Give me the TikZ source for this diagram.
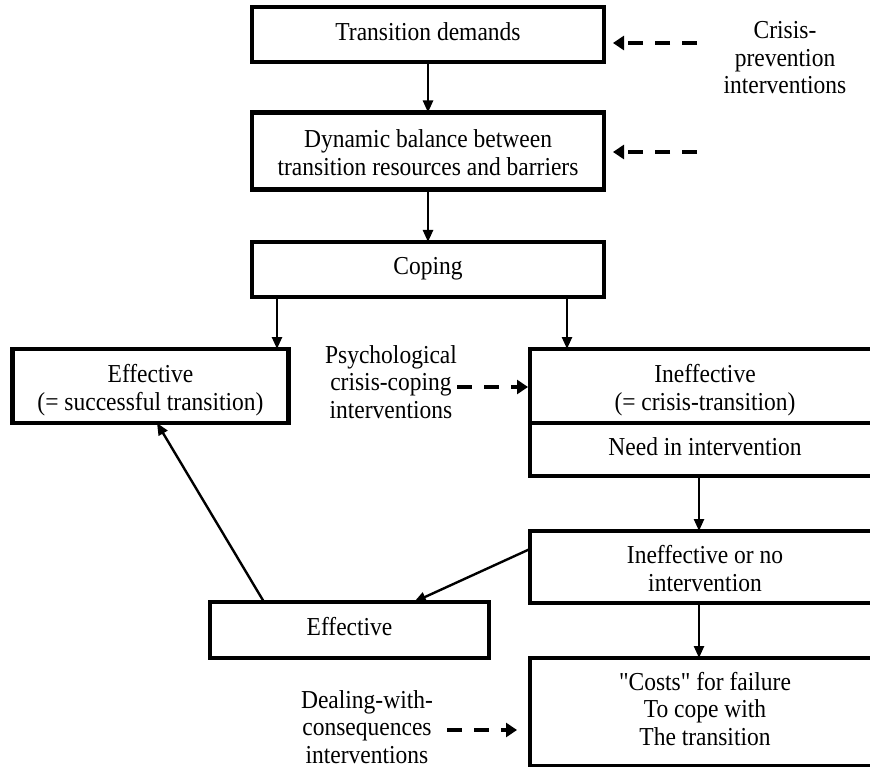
\documentclass[tikz,border=0pt]{standalone}
\usepackage{fontspec}
\usepackage{graphicx}
\setmainfont{Liberation Serif}[Ligatures=TeXOff]
\usetikzlibrary{arrows.meta}

% centred lines of text, set a little taller than wide;
% the optional argument lowers the lines inside their node
\newcommand{\tallrows}[2][0pt]{\raisebox{-#1}[\height][\depth]{%
  \scalebox{1}[1.1]{\begin{tabular}{@{}c@{}}#2\end{tabular}}}}

\begin{document}
\begin{tikzpicture}[x=1pt, y=-1pt,
  every node/.style={font=\fontsize{23.5}{25}\selectfont},
  box/.style={draw, line width=4.7pt, inner sep=0pt, outer sep=0pt, align=center},
  lbl/.style={align=center, inner sep=0pt},
  arr/.style={line width=2.4pt, -{Triangle[length=12pt,width=10pt]}},
  darr/.style={line width=4.6pt, dash pattern=on 15pt off 12pt,
               -{Triangle[length=11pt,width=14pt]}}]

\clip (0,0) rectangle (870,767);
\fill[white] (0,0) rectangle (870,767);

% main column
\node[box, minimum width=352pt, minimum height=55pt] (td) at (428,34.5) {\tallrows[1pt]{Transition demands}};
\node[box, minimum width=352pt, minimum height=77pt] (db) at (428,151)
  {\tallrows[5pt]{Dynamic balance between\\transition resources and barriers}};
\node[box, minimum width=352pt, minimum height=55pt] (cp) at (428,269.5) {\tallrows{Coping}};

% outcomes of coping
\node[box, minimum width=276pt, minimum height=74pt] (eff) at (150.5,386)
  {\tallrows[5pt]{Effective\\(= successful transition)}};
\node[box, minimum width=350pt, minimum height=74pt] (ineff) at (705,386)
  {\tallrows[5pt]{Ineffective\\(= crisis-transition)}};
\node[box, minimum width=350pt, minimum height=53pt] (need) at (705,449.5) {\tallrows{Need in intervention}};
\node[box, minimum width=350pt, minimum height=72pt] (ino) at (705,567)
  {\tallrows[5pt]{Ineffective or no\\intervention}};
\node[box, minimum width=279pt, minimum height=56pt] (eff2) at (349.5,630) {\tallrows{Effective}};
\node[box, minimum width=350pt, minimum height=108pt] (costs) at (705,712)
  {\tallrows{"Costs" for failure\\To cope with\\The transition}};

% intervention labels
\node[lbl] (crisis) at (785,61) {\tallrows{Crisis-\\prevention\\interventions}};
\node[lbl] (psych) at (391,385) {\tallrows{Psychological\\crisis-coping\\interventions}};
\node[lbl] (deal) at (367,730) {\tallrows{Dealing-with-\\consequences\\interventions}};

% starting points of the dashed intervention arrows
\coordinate (c1) at (697,43);
\coordinate (c2) at (697,152);
\coordinate (c3) at (457,387);
\coordinate (c4) at (447,730);

% solid flow arrows
\draw[arr] (td.south) -- (db.north);
\draw[arr] (db.south) -- (cp.north);
\draw[arr] ([xshift=25pt]cp.south west) -- ([xshift=-11.5pt]eff.north east);
\draw[arr] ([xshift=-37pt]cp.south east) -- ([xshift=37pt]ineff.north west);
\draw[arr] ([xshift=169pt]need.south west) -- ([xshift=169pt]ino.north west);
\draw[arr] ([yshift=18pt]ino.west) -- ([xshift=204pt]eff2.north west);
\draw[arr] ([xshift=54pt]eff2.north west) -- ([xshift=144.5pt]eff.south west);
\draw[arr] ([xshift=169pt]ino.south west) -- ([xshift=169pt]costs.north west);

% dashed intervention arrows
\draw[darr, shorten >=9pt] (c1) -- (c1 -| td.east);
\draw[darr, shorten >=9pt] (c2) -- (c2 -| db.east);
\draw[darr, shorten >=2pt] (c3) -- (c3 -| ineff.west);
\draw[darr, shorten >=13pt] (c4) -- (c4 -| costs.west);
\end{tikzpicture}
\end{document}
